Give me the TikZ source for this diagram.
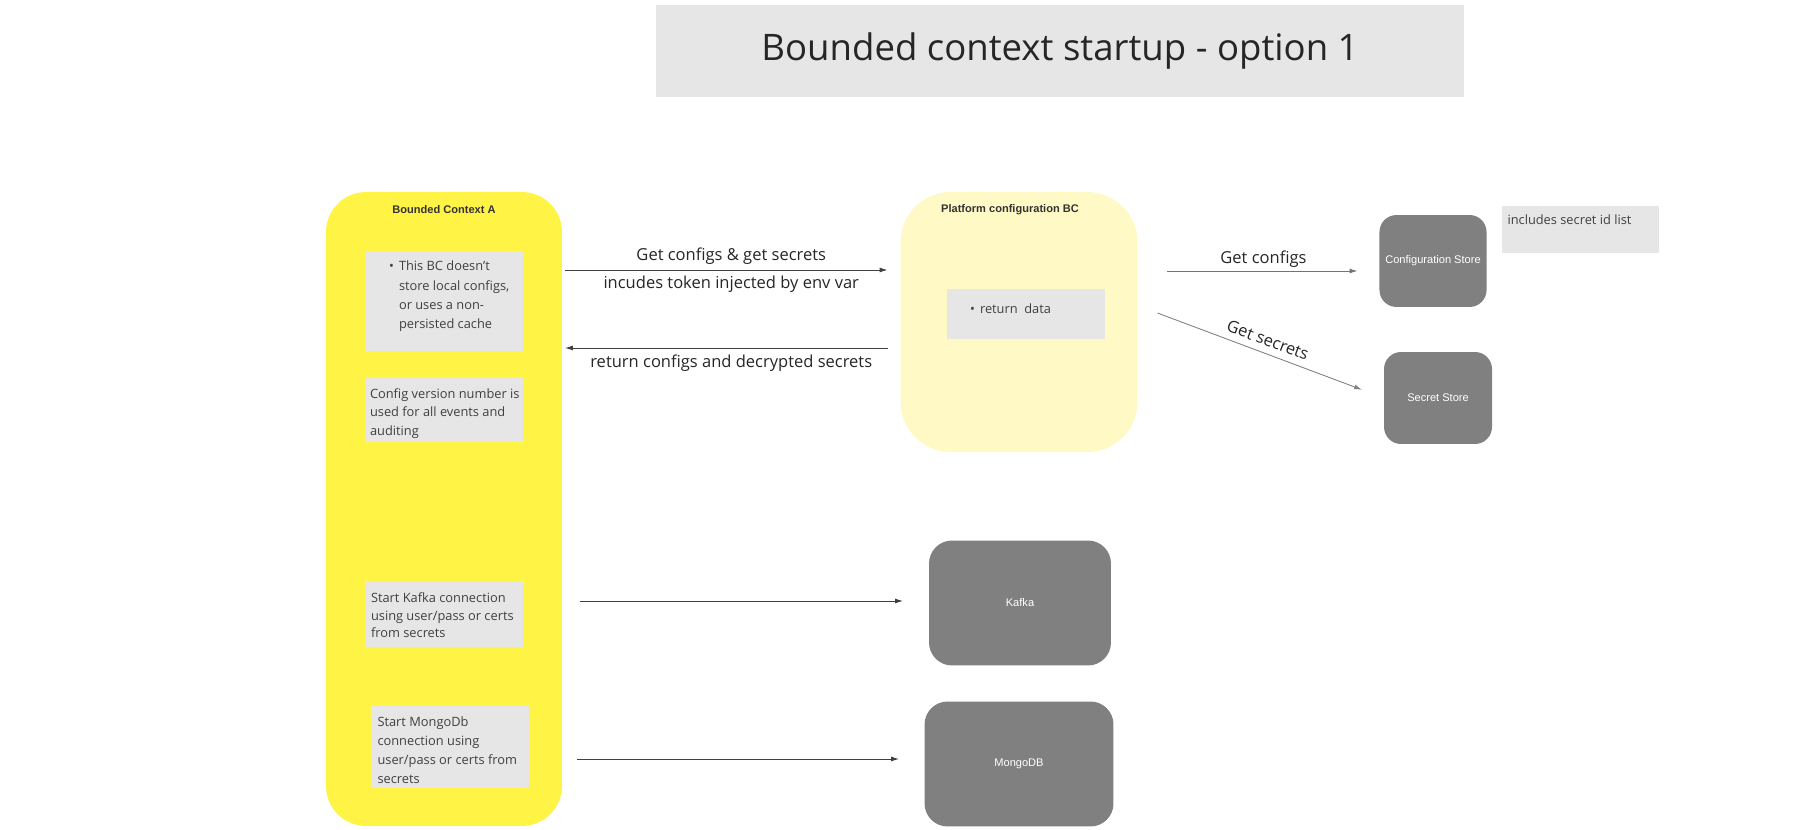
\documentclass[tikz,border=0pt]{standalone}
\usepackage{fontspec}
\setmainfont{Open Sans}
\newfontfamily\boxfont{Liberation Sans}
\usetikzlibrary{positioning,calc,arrows.meta}

\definecolor{bcyellow}{HTML}{FFF345}
\definecolor{pbcyellow}{HTML}{FFF9C6}
\definecolor{notegray}{HTML}{E6E6E6}
\definecolor{storegray}{HTML}{808080}

\begin{document}
\begin{tikzpicture}[x=0.02cm, y=-0.02cm,
    every node/.style={outer sep=0pt},
    note/.style={fill=notegray, inner sep=0pt, minimum width=3.16cm},
    notetext/.style={anchor=north west, inner sep=0pt, align=left, text=black!75,
        font=\fontsize{7.3}{10}\selectfont},
    bctitle/.style={font=\boxfont\bfseries\fontsize{6.3}{7}\selectfont, text=black!80},
    store/.style={fill=storegray, rounded corners=0.34cm, text=white,
        font=\boxfont\fontsize{6.3}{7}\selectfont},
    flow/.style={-{Latex[length=4.5pt,width=2.8pt]}, line width=0.5pt, draw=black!75},
    lbl/.style={font=\fontsize{9.4}{11}\selectfont, text=black!85}
]
\useasboundingbox (0,0) rectangle (1794,830);

% Title
\node[fill=notegray, minimum width=16.16cm, minimum height=1.84cm, text=black!85,
    font=\fontsize{20.8}{25}\selectfont] (title) at (1060,51) {Bounded context startup - option 1};

% Bounded Context A
\node[fill=bcyellow, rounded corners=0.8cm, minimum width=4.72cm, minimum height=12.68cm] (bca) at (444,509) {};
\node[bctitle] (bcatitle) at (444,210) {Bounded Context A};

\node[note, minimum height=2cm] (cache) at (444,301) {};
\node[notetext, font=\fontsize{7.3}{10.9}\selectfont, xshift=0.48cm, yshift=-0.13cm] (cachetext) at (cache.north west)
    {\begin{tabular}{@{}p{5.7pt}@{}l@{}}
     \textbullet & This BC doesn't\\ & store local configs,\\ & or uses a non-\\ & persisted cache
     \end{tabular}};

\node[note, minimum height=1.3cm] (version) at (444,410) {};
\node[notetext, font=\fontsize{7.3}{10.3}\selectfont, xshift=0.1cm, yshift=-0.23cm] (versiontext) at (version.north west)
    {Config version number is\\used for all events and\\auditing};

\node[note, minimum height=1.34cm] (kafkanote) at (444,614) {};
\node[notetext, xshift=0.12cm, yshift=-0.25cm] (kafkatext) at (kafkanote.north west)
    {Start Kafka connection\\using user/pass or certs\\from secrets};

\node[note, minimum width=3.18cm, minimum height=1.66cm] (mongonote) at (450,747) {};
\node[notetext, font=\fontsize{7.3}{10.7}\selectfont, xshift=0.14cm, yshift=-0.23cm] (mongotext) at (mongonote.north west)
    {Start MongoDb\\connection using\\user/pass or certs from\\secrets};

% Platform configuration BC
\node[fill=pbcyellow, rounded corners=1cm, minimum width=4.74cm, minimum height=5.2cm] (pbc) at (1019,322) {};
\node[bctitle] (pbctitle) at (1010,210) {Platform configuration BC};
\node[note, minimum height=1cm] (retdata) at (1026,314) {};
\node[notetext, xshift=0.46cm, yshift=-0.24cm] (retdatatext) at (retdata.north west)
    {\begin{tabular}{@{}p{5.7pt}@{}l@{}}\textbullet & return\ \ data\end{tabular}};

% Stores
\node[store, minimum width=2.14cm, minimum height=1.84cm] (cfgstore) at (1433,261) {Configuration Store};
\node[store, minimum width=2.16cm, minimum height=1.84cm] (secstore) at (1438,398) {Secret Store};
\node[note, minimum width=3.14cm, minimum height=0.94cm] (idlist) at (1580,230) {};
\node[notetext, xshift=0.12cm, yshift=-0.16cm] (idlisttext) at (idlist.north west) {includes secret id list};

\node[store, rounded corners=0.46cm, minimum width=3.64cm, minimum height=2.5cm] (kafka) at (1020,603) {Kafka};
\node[store, rounded corners=0.46cm, minimum width=3.78cm, minimum height=2.5cm] (mongo) at (1019,764) {MongoDB};

% Connectors
\draw[flow, shorten <=0.06cm, shorten >=0.26cm] (bca.east |- 0,270) -- (pbc.west |- 0,270)
    node[lbl, midway, above=-0.01cm] {Get configs \& get secrets}
    node[lbl, midway, below=0cm] {incudes token injected by env var};
\draw[flow, shorten <=0.26cm, shorten >=0.06cm] (pbc.west |- 0,348) -- (bca.east |- 0,348)
    node[lbl, midway, below=0.03cm] {return configs and decrypted secrets};
\draw[flow, draw=black!55, shorten <=0.6cm, shorten >=0.44cm] (pbc.east |- 0,271) -- (cfgstore.west |- 0,271)
    node[lbl, midway, above=-0.04cm, xshift=0.1cm] {Get configs};
\draw[flow, draw=black!50, shorten <=0.43cm, shorten >=0.47cm] (pbc.east |- 0,305.5) -- (secstore.west)
    node[lbl, pos=0.51, sloped, above=0.03cm] {Get secrets};
\draw[flow, shorten <=0.36cm, shorten >=0.52cm] (bca.east |- 0,601) -- (kafka.west |- 0,601);
\draw[flow, shorten <=0.3cm, shorten >=0.51cm] (bca.east |- 0,759) -- (mongo.west |- 0,759);
\end{tikzpicture}
\end{document}
